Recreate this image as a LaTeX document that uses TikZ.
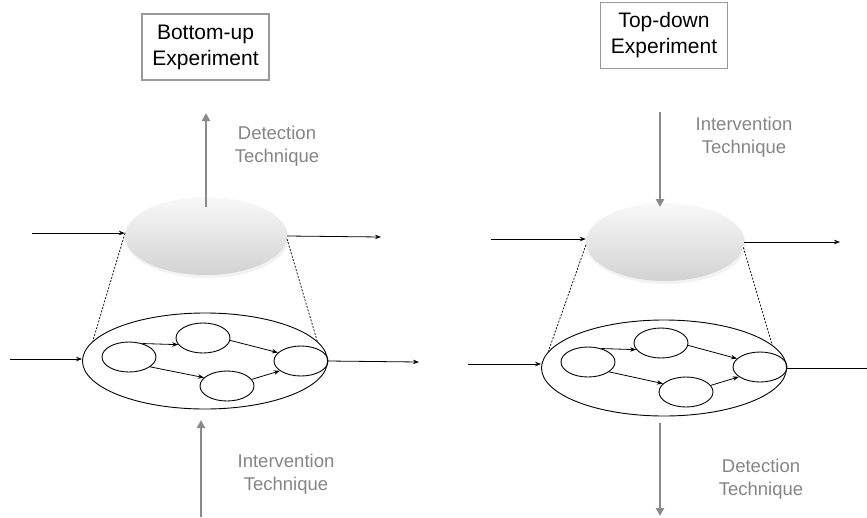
\documentclass[tikz,border=0pt]{standalone}
\usepackage{fontspec}
\setmainfont{Liberation Sans}
\usetikzlibrary{arrows.meta,shapes.geometric}
\definecolor{arrgray}{HTML}{8A8A8A}
\definecolor{txtgray}{HTML}{858585}
\definecolor{boxgray}{HTML}{9A9A9A}
\begin{document}
\begin{tikzpicture}[x=1pt,y=-1pt,
  titlebox/.style={draw=boxgray, line width=1.5pt, align=center, font=\fontsize{21}{26}\selectfont, minimum width=127pt, minimum height=66pt, inner sep=0pt},
  techlabel/.style={text=txtgray, align=center, font=\fontsize{18.5}{23}\selectfont},
  bigarrow/.style={arrgray, line width=2.5pt, -{Triangle[length=8pt,width=8pt]}},
  flow/.style={black, line width=0.8pt, -{Stealth[length=6pt,width=4.5pt]}},
  plainline/.style={black, line width=0.8pt},
  outerell/.style={ellipse, draw, line width=0.9pt, minimum width=245pt, minimum height=96pt, inner sep=0pt},
  innerell/.style={ellipse, draw, line width=0.9pt, minimum width=54pt, minimum height=30pt, inner sep=0pt},
  blob/.style={ellipse, minimum width=162pt, minimum height=78pt, inner sep=0pt, top color=gray!5, bottom color=gray!35},
  zoomline/.style={black, line width=0.7pt, dash pattern=on 2pt off 1.5pt},
  shadowfill/.style={fill=gray, opacity=0.10}]
\path[use as bounding box] (0,0) rectangle (867,517);

% ---------------- Left: Bottom-up ----------------
\node[titlebox] (t1) at (205.5,47) {Bottom-up\\Experiment};
\fill[shadowfill] (207,238) ellipse [x radius=82pt, y radius=40pt];
\node[blob] (b1) at (206,236) {};
\node[outerell] (o1) at (205,361) {};
\node[innerell] (a1) at (129,357) {};
\node[innerell] (c1) at (203,338) {};
\node[innerell] (d1) at (227,386) {};
\node[innerell] (e1) at (301,361) {};
\node[techlabel] (lab1) at (277,146) {Detection\\Technique};
\node[techlabel] (lab2) at (286,474) {Intervention\\Technique};

\coordinate (det1s) at (206,207);
\coordinate (det1e) at (206,113);
\coordinate (int1s) at (201,517);
\coordinate (int1e) at (201,420);
\draw[bigarrow] (det1s) -- (det1e);
\draw[bigarrow] (int1s) -- (int1e);

\coordinate (in1a) at (32,233);
\coordinate (out1a) at (381,237);
\coordinate (in1b) at (10,359);
\coordinate (out1b) at (419,362);
\draw[flow] (in1a) -- (in1a -| b1.west);
\draw[flow] (b1.east) -- (out1a);
\draw[flow] (in1b) -- (in1b -| o1.west);
\draw[flow] (o1.east) -- (out1b);
\draw[zoomline] (b1.178) -- (o1.170);
\draw[zoomline] (b1.358) -- (o1.10);

\draw[flow] (a1.45) -- (c1.195);
\draw[flow] (c1.355) -- (e1.160);
\draw[flow] (a1.335) -- (d1.160);
\draw[flow] (d1.15) -- (e1.205);

% ---------------- Right: Top-down ----------------
\node[titlebox] (t2) at (664,35.5) {Top-down\\Experiment};
\fill[shadowfill] (666,244) ellipse [x radius=80pt, y radius=40pt];
\node[blob, minimum width=158pt, minimum height=78pt] (b2) at (665,242) {};
\node[outerell] (o2) at (664,368) {};
\node[innerell] (a2) at (588,362) {};
\node[innerell] (c2) at (661,343) {};
\node[innerell] (d2) at (686,392) {};
\node[innerell] (e2) at (760,367) {};
\node[techlabel] (lab3) at (744,137) {Intervention\\Technique};
\node[techlabel] (lab4) at (761,479) {Detection\\Technique};

\coordinate (int2s) at (660,112);
\coordinate (int2e) at (660,207);
\coordinate (det2s) at (660,423);
\coordinate (det2e) at (660,516);
\draw[bigarrow] (int2s) -- (int2e);
\draw[bigarrow] (det2s) -- (det2e);

\coordinate (in2a) at (491,239);
\coordinate (out2a) at (840,242);
\coordinate (in2b) at (468,364);
\coordinate (out2b) at (870,368);
\draw[flow] (in2a) -- (in2a -| b2.west);
\draw[flow] (b2.east) -- (out2a);
\draw[flow] (in2b) -- (in2b -| o2.west);
\draw[plainline] (o2.east) -- (out2b);
\draw[zoomline] (b2.182) -- (o2.172);
\draw[zoomline] (b2.356) -- (o2.12);

\draw[flow] (a2.45) -- (c2.195);
\draw[flow] (c2.355) -- (e2.160);
\draw[flow] (a2.335) -- (d2.160);
\draw[flow] (d2.15) -- (e2.205);
\end{tikzpicture}
\end{document}
